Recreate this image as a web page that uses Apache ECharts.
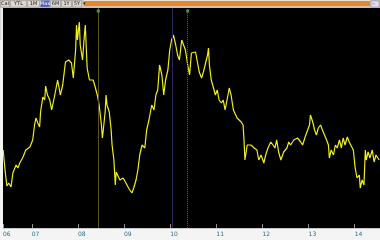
<!DOCTYPE html>
<html>
<head>
<meta charset="utf-8">
<script src="https://cdn.jsdelivr.net/npm/echarts@6/dist/echarts.min.js"></script>
<style>
html,body{margin:0;padding:0;background:#fff;}
#c{width:380px;height:240px;}
</style>
</head>
<body>
<div id="c"></div>
<script>
// Time (decimal years) and price readings
const years = [2006.38,2006.42,2006.46,2006.50,2006.55,2006.59,2006.66,2006.70,2006.74,2006.81,2006.87,2006.91,2006.96,2007.02,2007.06,2007.09,2007.13,2007.17,2007.19,2007.24,2007.28,2007.30,2007.34,2007.39,2007.43,2007.49,2007.56,2007.60,2007.62,2007.67,2007.73,2007.80,2007.86,2007.90,2007.95,2007.97,2007.99,2008.03,2008.05,2008.10,2008.14,2008.16,2008.20,2008.25,2008.29,2008.33,2008.38,2008.42,2008.46,2008.51,2008.53,2008.55,2008.59,2008.61,2008.63,2008.68,2008.72,2008.74,2008.78,2008.81,2008.83,2008.87,2008.91,2008.98,2009.04,2009.11,2009.17,2009.21,2009.26,2009.30,2009.34,2009.39,2009.45,2009.49,2009.54,2009.60,2009.65,2009.69,2009.73,2009.77,2009.82,2009.86,2009.90,2009.95,2009.99,2010.03,2010.07,2010.12,2010.16,2010.20,2010.25,2010.29,2010.33,2010.38,2010.42,2010.46,2010.50,2010.55,2010.59,2010.63,2010.68,2010.72,2010.76,2010.81,2010.83,2010.85,2010.89,2010.94,2010.98,2011.02,2011.06,2011.11,2011.15,2011.19,2011.24,2011.28,2011.32,2011.37,2011.41,2011.45,2011.49,2011.54,2011.58,2011.60,2011.62,2011.67,2011.71,2011.75,2011.82,2011.88,2011.92,2011.97,2012.03,2012.07,2012.12,2012.18,2012.23,2012.27,2012.31,2012.35,2012.40,2012.46,2012.53,2012.57,2012.61,2012.68,2012.72,2012.76,2012.83,2012.87,2012.94,2012.98,2013.02,2013.04,2013.09,2013.13,2013.17,2013.21,2013.26,2013.30,2013.34,2013.39,2013.43,2013.45,2013.49,2013.54,2013.58,2013.62,2013.67,2013.71,2013.75,2013.79,2013.84,2013.88,2013.92,2013.97,2014.01,2014.05,2014.10,2014.12,2014.16,2014.20,2014.23,2014.25,2014.29,2014.33,2014.38,2014.42,2014.46,2014.53];
const prices = [69,59,51,52.5,50.5,57.5,61.5,60,62.5,65.5,69,68,70.5,74,81.5,85,82.5,80.5,88,95.5,94,101,96.5,94,89,95.5,104,105,96.5,101.5,113,114,112.5,105,119,131.5,124,133,121.5,114,126.5,131.5,110,104,105,104,100,96.5,91.5,81.5,75,79,88,96.5,91.5,88,79,71.5,64,51.5,58,59,54,55,52.5,49.5,47.5,50,54,59,66.5,71.5,70,79,84,91.5,89,96.5,99,111.5,106.5,96.5,104,109,119,124,126.5,121.5,116.5,114,124,121.5,119,111.5,106.5,117.5,116.5,118,119,108,105,108,109,116.5,120,111.5,104,100,96.5,99,94,92.5,94,89,95,100,96.5,89,88,85,85,83,81.5,74,64,71.5,72.5,71.5,70,69,64,66.5,62.5,66.5,70,73,71.5,70,74,68,64,68,70,73,71.5,74,73,75,73,71.5,76.5,79,81.5,86.5,83,79,76.5,80,81.5,79,78,74,71.5,65,69,66.5,71.5,70,74,70,75,71.5,75.5,73,72.5,69,60,55,56.5,50,54,51.5,69,64,68,65,69,63,66.5,64];
const eventYears = [2008.44, 2010.05, 2010.38];
const tickYearLabels = ['06','07','08','09','10','11','12','13','14'];
const toolbarButtons = ['Cal','YTL','1M','Max','6M','1Y','5Y'];

const chart = echarts.init(document.getElementById('c'), null, {renderer:'canvas'});
const data = years.map((t,i)=>[t, prices[i]]);

const btnX = [0,10,27,40,50,61,72];
const btnW = [10,17,13,10,11,11,10];
const graphics = [
  {type:'rect', shape:{x:0,y:0,width:380,height:8}, style:{fill:'#c8c4bc'}, z:100},
  {type:'rect', shape:{x:84,y:1,width:286,height:5}, style:{fill:'#e8862a'}, z:101},
  {type:'rect', shape:{x:84,y:0,width:286,height:1}, style:{fill:'#e8e4dc'}, z:101},
  {type:'rect', shape:{x:371,y:1,width:8,height:6}, style:{fill:'#e4e0ec', stroke:'#8070a8', lineWidth:0.5}, z:101},
  {type:'text', style:{x:372,y:1.5,text:'▫▫',fontSize:4,fill:'#6050a0'}, z:102},
  {type:'rect', shape:{x:0,y:8,width:1.5,height:32}, style:{fill:'#d8d8d8'}, z:100}
];
toolbarButtons.forEach((b,i)=>{
  const sel = i===3;
  graphics.push({type:'rect', shape:{x:btnX[i]+0.5,y:0.5,width:btnW[i]-1,height:6.5},
    style:{fill: sel ? '#4c5fd0' : '#dcd8d0', stroke:'#888', lineWidth:0.5}, z:101});
  graphics.push({type:'text', style:{x:btnX[i]+btnW[i]/2, y:3.8, text:b, fontSize:5, fontFamily:'DejaVu Sans',
    fill: sel ? '#ffffff' : '#202020', align:'center', verticalAlign:'middle'}, z:102});
});
graphics.push({type:'text', style:{x:83,y:3.8,text:'▾',fontSize:5,fill:'#202020',verticalAlign:'middle'}, z:102});

const evColors = ['#5e5220','#2c2456','#4f5e44'];
const evTypes = ['solid','solid','dotted'];

chart.setOption({
  animation:false,
  backgroundColor:'#f4f4f4',
  grid:{left:0,right:0,top:8,bottom:12,show:true,backgroundColor:'#000',borderWidth:0},
  xAxis:{type:'value', min:2006.376, max:2014.548, splitNumber:8,
    axisLine:{show:true, lineStyle:{color:'#c8c8c8', width:1}},
    axisTick:{show:true, inside:true, length:4, lineStyle:{color:'#909090'}},
    axisLabel:{show:true, align:'left', margin:3, fontSize:6, color:'#2c6f8e', fontFamily:'DejaVu Sans',
      showMaxLabel:false,
      formatter:(v)=>{const y=Math.round(v); const s=String(y%100).padStart(2,'0'); return tickYearLabels.includes(s)?s:'';}},
    splitLine:{show:false}},
  yAxis:{type:'value', min:30, max:140, show:false, splitLine:{show:false}},
  graphic:graphics,
  series:[{
    type:'line', data:data, showSymbol:false, symbol:'none',
    lineStyle:{color:'#f2ee1a', width:1.2},
    markLine:{silent:true, symbol:'none', label:{show:false},
      data: eventYears.map((t,i)=>({xAxis:t, lineStyle:{color:evColors[i], type:evTypes[i], width:1}}))},
    markPoint:{silent:true, label:{show:false},
      data: [0,2].map(i=>({coord:[eventYears[i],138.5], symbol:'rect', symbolSize:[3,3], itemStyle:{color:'#3aa040'}}))}
  }]
});
</script>
</body>
</html>
